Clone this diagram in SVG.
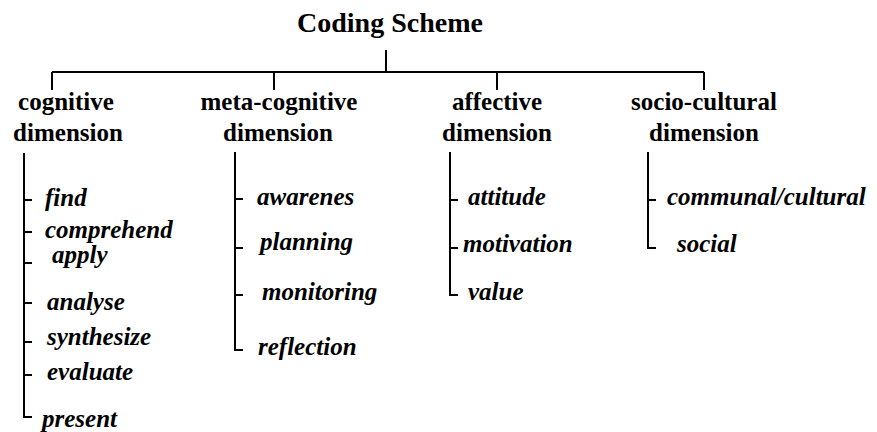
<svg xmlns="http://www.w3.org/2000/svg" width="877" height="432" viewBox="0 0 877 432" font-family="'Liberation Serif', 'Times New Roman', serif">
<rect width="877" height="432" fill="#fff"/>
<g id="connectors" stroke="#000" stroke-width="2" fill="none">
<path d="M386,50V73M52,72H704M52,72V90M274,72V90M497,72V90M704,72V90"/>
<path d="M24,153V417H32M24,200H32M24,232H32M24,263H32M24,303H32M24,342H32M24,375H32"/>
<path d="M235,152V350H243M235,199H243M235,248H243M235,295H243"/>
<path d="M450,152V295H458M450,200H458M450,248H458"/>
<path d="M648,152V248H656M648,200H656"/>
</g>
<g id="root"><text font-family="'Liberation Serif', serif" font-weight="bold" font-size="28" x="297" y="32">Coding Scheme</text></g>
<g id="cognitive" font-weight="bold" font-size="25" text-anchor="middle"><text font-family="'Liberation Serif', serif" x="66" y="110">cognitive</text><text font-family="'Liberation Serif', serif" x="68" y="141">dimension</text></g>
<g id="metacognitive" font-weight="bold" font-size="25" text-anchor="middle"><text font-family="'Liberation Serif', serif" x="279" y="110">meta-cognitive</text><text font-family="'Liberation Serif', serif" x="278" y="141">dimension</text></g>
<g id="affective" font-weight="bold" font-size="25" text-anchor="middle"><text font-family="'Liberation Serif', serif" x="497" y="110">affective</text><text font-family="'Liberation Serif', serif" x="497" y="141">dimension</text></g>
<g id="sociocultural" font-weight="bold" font-size="25" text-anchor="middle"><text font-family="'Liberation Serif', serif" x="704" y="110">socio-cultural</text><text font-family="'Liberation Serif', serif" x="704" y="141">dimension</text></g>
<g font-weight="bold" font-style="italic" font-size="25">
<g id="find"><text font-family="'Liberation Serif', serif" x="45" y="206">find</text></g>
<g id="comprehend"><text font-family="'Liberation Serif', serif" x="45" y="238">comprehend</text></g>
<g id="apply"><text font-family="'Liberation Serif', serif" x="52" y="263">apply</text></g>
<g id="analyse"><text font-family="'Liberation Serif', serif" x="47" y="310">analyse</text></g>
<g id="synthesize"><text font-family="'Liberation Serif', serif" x="47" y="345">synthesize</text></g>
<g id="evaluate"><text font-family="'Liberation Serif', serif" x="47" y="380">evaluate</text></g>
<g id="present"><text font-family="'Liberation Serif', serif" x="42" y="427">present</text></g>
<g id="awarenes"><text font-family="'Liberation Serif', serif" x="257" y="205">awarenes</text></g>
<g id="planning"><text font-family="'Liberation Serif', serif" x="260" y="250">planning</text></g>
<g id="monitoring"><text font-family="'Liberation Serif', serif" x="262" y="300">monitoring</text></g>
<g id="reflection"><text font-family="'Liberation Serif', serif" x="258" y="355">reflection</text></g>
<g id="attitude"><text font-family="'Liberation Serif', serif" x="468" y="205">attitude</text></g>
<g id="motivation"><text font-family="'Liberation Serif', serif" x="463" y="252">motivation</text></g>
<g id="value"><text font-family="'Liberation Serif', serif" x="468" y="300">value</text></g>
<g id="communal"><text font-family="'Liberation Serif', serif" x="667" y="205">communal/cultural</text></g>
<g id="social"><text font-family="'Liberation Serif', serif" x="677" y="252">social</text></g>
</g>
</svg>
